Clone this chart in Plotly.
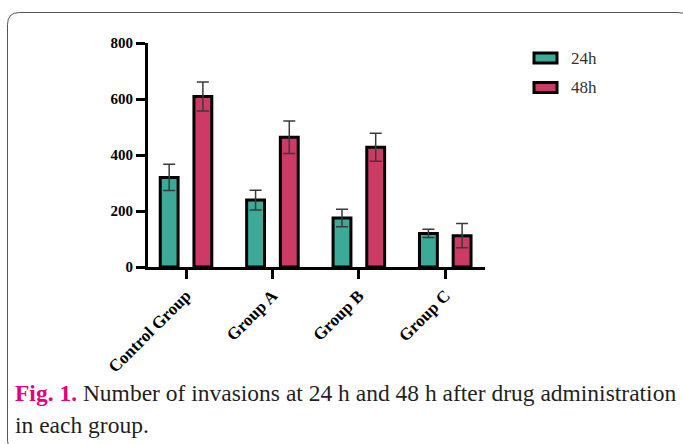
import plotly.graph_objects as go

# Invasion counts (mean ± SD) per group at two time points
groups = ["Control Group", "Group A", "Group B", "Group C"]
series_names = ["24h", "48h"]
mean_24h = [320, 239, 175, 120]
sd_24h = [47, 35, 31, 15]
mean_48h = [609, 463, 428, 112]
sd_48h = [52, 58, 50, 43]
y_ticks = [0, 200, 400, 600, 800]

colors = ["#3BAA97", "#CC3A66"]

W, H = 683, 444
L, R, T, B = 148, 198, 43, 177
PW, PH = W - L - R, H - T - B


def px(x):
    return (x - L) / PW


def py(y):
    return (H - B - y) / PH


fig = go.Figure()
for name, vals, errs, col in zip(series_names, [mean_24h, mean_48h], [sd_24h, sd_48h], colors):
    fig.add_trace(go.Bar(
        x=list(range(len(groups))), y=vals, name=name,
        marker=dict(color=col, line=dict(color="black", width=3)),
        error_y=dict(type="data", array=errs, visible=True,
                     color="#3a3a3a", thickness=1.5, width=6),
        showlegend=False,
    ))

serif = "Liberation Serif"

fig.update_layout(
    width=W, height=H,
    margin=dict(l=L, r=R, t=T, b=B),
    paper_bgcolor="white", plot_bgcolor="white",
    barmode="group", bargap=0.22, bargroupgap=0.47,
)
fig.update_xaxes(
    range=[-0.44, 3.46], tickvals=list(range(len(groups))),
    ticktext=[f"<b>{g}</b>" for g in groups],
    tickangle=-45, showline=True, linecolor="black", linewidth=3,
    ticks="outside", ticklen=9, tickwidth=2.5, tickcolor="black",
    tickfont=dict(family=serif, size=17, color="black"),
    showgrid=False, zeroline=False,
)
fig.update_yaxes(
    range=[0, 800], tickvals=y_ticks, ticktext=[f"<b>{v}</b>" for v in y_ticks],
    showline=True, linecolor="black", linewidth=3,
    ticks="outside", ticklen=9, tickwidth=2.5, tickcolor="black",
    tickfont=dict(family=serif, size=15, color="black"),
    showgrid=False, zeroline=False,
)

# Custom legend swatches
for i, (name, col) in enumerate(zip(series_names, colors)):
    y0 = 53 + i * 29.5
    fig.add_shape(type="rect", xref="paper", yref="paper",
                  x0=px(534), x1=px(557), y0=py(y0), y1=py(y0 + 10),
                  fillcolor=col, line=dict(color="black", width=3))
    fig.add_annotation(xref="paper", yref="paper", x=px(569), y=py(y0 + 5),
                       text=name, showarrow=False, xanchor="left", yanchor="middle",
                       font=dict(family=serif, size=17, color="#333333"))

# Rounded frame around the figure
x0, x1, y0, y1, r = 7.5, 690, 12.5, 452, 12
path = (
    f"M {px(x0)},{py(y0 + r)} Q {px(x0)},{py(y0)} {px(x0 + r)},{py(y0)} "
    f"L {px(x1 - r)},{py(y0)} Q {px(x1)},{py(y0)} {px(x1)},{py(y0 + r)} "
    f"L {px(x1)},{py(y1 - r)} Q {px(x1)},{py(y1)} {px(x1 - r)},{py(y1)} "
    f"L {px(x0 + r)},{py(y1)} Q {px(x0)},{py(y1)} {px(x0)},{py(y1 - r)} Z"
)
fig.add_shape(type="path", xref="paper", yref="paper", path=path,
              line=dict(color="#555555", width=1))

# Caption
fig.add_annotation(
    xref="paper", yref="paper", x=px(13), y=py(393), xanchor="left", yanchor="middle",
    showarrow=False,
    text="<b><span style='color:#E4007C'>Fig. 1.</span></b> Number of invasions at 24 h and 48 h after drug administration",
    font=dict(family=serif, size=23.5, color="#231F20"),
)
fig.add_annotation(
    xref="paper", yref="paper", x=px(13), y=py(425), xanchor="left", yanchor="middle",
    showarrow=False, text="in each group.",
    font=dict(family=serif, size=23.5, color="#231F20"),
)

fig.write_html("out.html")
